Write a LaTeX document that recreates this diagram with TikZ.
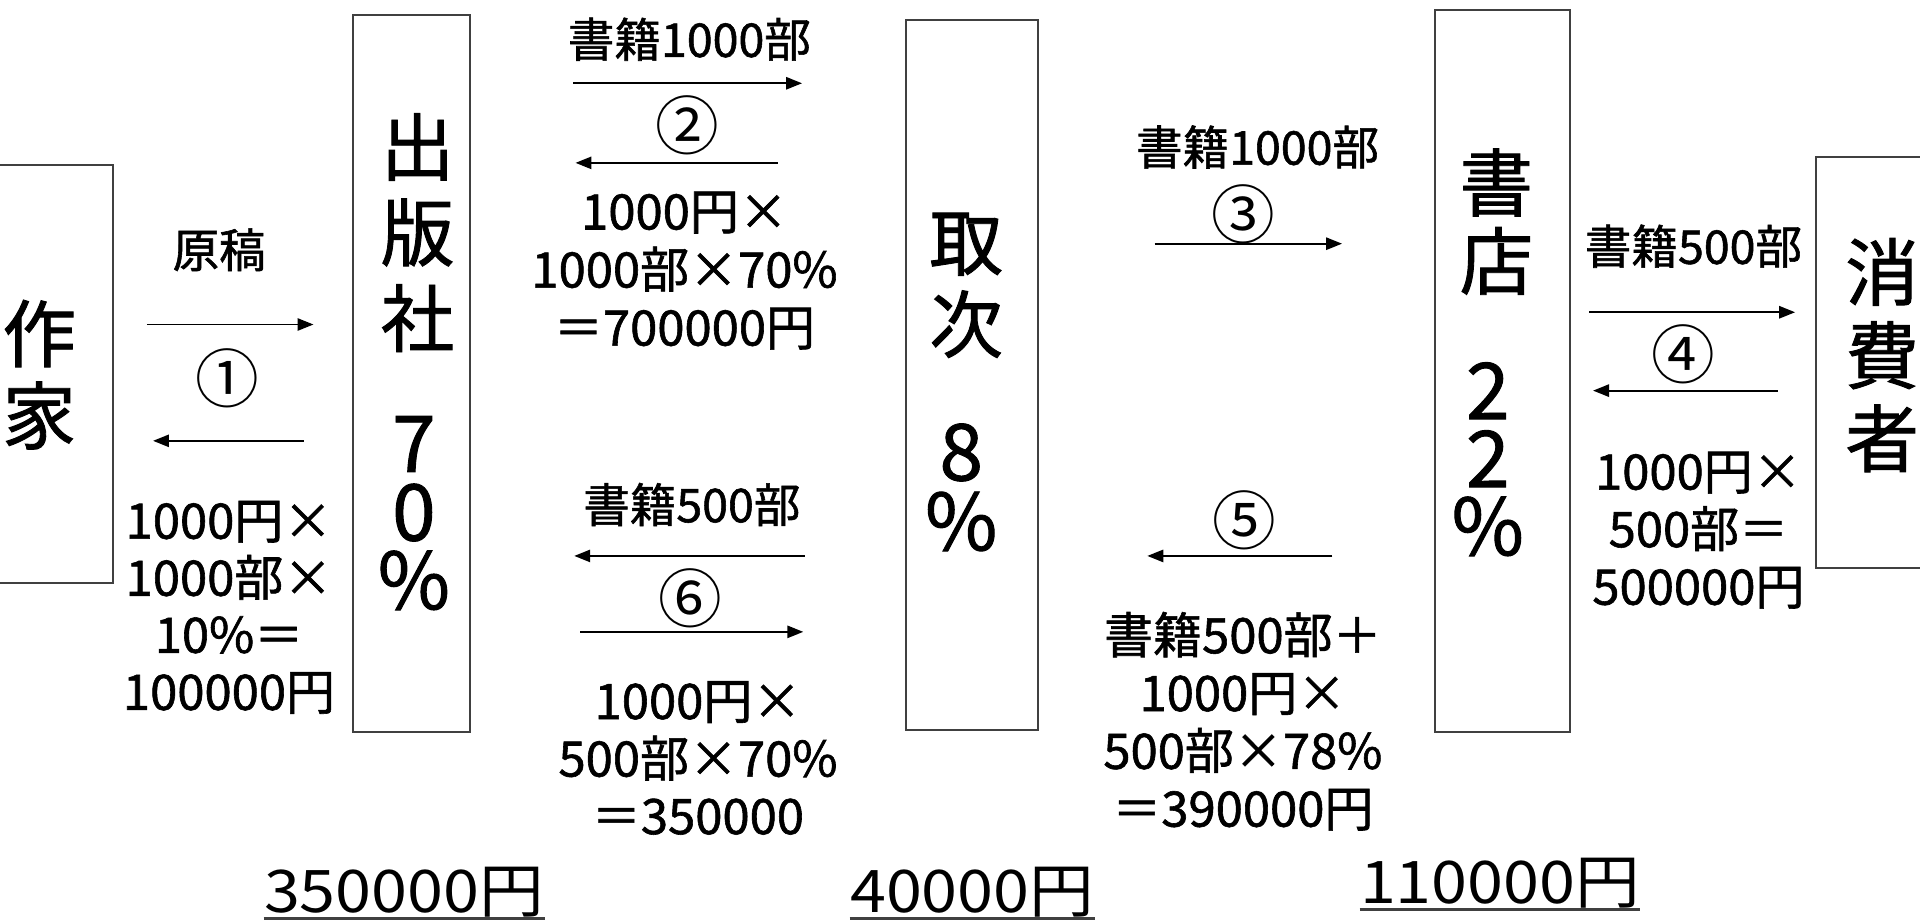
\documentclass[tikz,border=0pt]{standalone}
\usepackage{fontspec}
\setmainfont{Noto Sans CJK JP}[BoldFont=Noto Sans CJK JP, BoldFeatures={FakeBold=1.2}]
\usetikzlibrary{arrows.meta,fit}
\tikzset{
 box/.style={draw=black!75, line width=0.9pt, inner sep=0pt},
 flow/.style={line width=0.8pt, -{Triangle[length=6.5pt,width=5pt]}},
 big/.style={align=center, inner sep=0pt},
 lbl/.style={font=\bfseries\fontsize{19}{20}\selectfont, inner sep=0pt},
 blk/.style={align=center, inner sep=0pt},
 num/.style={font=\fontsize{26}{26}\selectfont, inner sep=0pt},
 tot/.style={font=\fontsize{24}{26}\selectfont, inner sep=0pt, anchor=base},
 uline/.style={line width=1.1pt, black!75},
}
\begin{document}
\begin{tikzpicture}[x=0.5pt,y=-0.5pt]
\useasboundingbox (0,0) rectangle (1568,752);
% boxes
\node[box, fit={(-4,135) (92,476)}] (author) {};
\node[box, fit={(288,12) (384,598)}] (pub) {};
\node[box, fit={(740,16) (848,596)}] (dist) {};
\node[box, fit={(1172,8) (1282,598)}] (shop) {};
\node[box, fit={(1483,128) (1580,464)}] (cons) {};
% box texts
\node[big, font=\bfseries\fontsize{30}{33.5}\selectfont] (authorT) at (32,306) {作\\家};
\node[big, font=\bfseries\fontsize{30}{35}\selectfont] (pubT) at (341,190) {出\\版\\社};
\node[big, font=\bfseries\fontsize{32}{28}\selectfont] (pubP) at (338,419) {7\\0\\\%};
\node[big, font=\bfseries\fontsize{30}{33.5}\selectfont] (distT) at (789,233) {取\\次};
\node[big, font=\bfseries\fontsize{32}{28.5}\selectfont] (distP) at (785,398) {8\\\%};
\node[big, font=\bfseries\fontsize{30}{32}\selectfont] (shopT) at (1222,181) {書\\店};
\node[big, font=\bfseries\fontsize{32}{27.75}\selectfont] (shopP) at (1215,375) {2\\2\\\%};
\node[big, font=\bfseries\fontsize{30}{34}\selectfont] (consT) at (1537,290) {消\\費\\者};
% arrow end points
\coordinate (a1rs) at (120,265); \coordinate (a1re) at (256,265);
\coordinate (a1ls) at (248,360); \coordinate (a1le) at (125,360);
\coordinate (a2rs) at (468,68);  \coordinate (a2re) at (655,68);
\coordinate (a2ls) at (635,133); \coordinate (a2le) at (470,133);
\coordinate (a6ls) at (657,454); \coordinate (a6le) at (469,454);
\coordinate (a6rs) at (474,516); \coordinate (a6re) at (656,516);
\coordinate (a3rs) at (943,199); \coordinate (a3re) at (1096,199);
\coordinate (a5ls) at (1088,454); \coordinate (a5le) at (937,454);
\coordinate (a4rs) at (1298,255); \coordinate (a4re) at (1466,255);
\coordinate (a4ls) at (1452,319); \coordinate (a4le) at (1301,319);
\foreach \s/\e in {a1rs/a1re,a1ls/a1le,a2rs/a2re,a2ls/a2le,a6ls/a6le,a6rs/a6re,a3rs/a3re,a5ls/a5le,a4rs/a4re,a4ls/a4le}
  \draw[flow] (\s) -- (\e);
% labels 1
\node[lbl] (l1) at (179,204) {原稿};
\node[num] (n1) at (186,309) {①};
\node[blk, font=\bfseries\fontsize{20}{23.3}\selectfont] (b1) at (187,496) {1000円×\\1000部×\\10\%＝\\100000円};
% labels 2
\node[lbl] (l2) at (563,32) {書籍1000部};
\node[num] (n2) at (561,102) {②};
\node[blk, font=\bfseries\fontsize{20}{23.7}\selectfont] (b2) at (559,221) {1000円×\\1000部×70\%\\＝700000円};
% labels 6
\node[lbl] (l6) at (565,412) {書籍500部};
\node[num] (n6) at (564,489) {⑥};
\node[blk, font=\bfseries\fontsize{20}{23.5}\selectfont] (b6) at (570,619) {1000円×\\500部×70\%\\＝350000};
% labels 3
\node[lbl] (l3) at (1027,120) {書籍1000部};
\node[num] (n3) at (1015,175) {③};
% labels 5
\node[num] (n5) at (1016,425) {⑤};
\node[blk, font=\bfseries\fontsize{20}{23.6}\selectfont] (b5) at (1015,589) {書籍500部＋\\1000円×\\500部×78\%\\＝390000円};
% labels 4
\node[lbl] (l4) at (1383,201) {書籍500部};
\node[num] (n4) at (1375,289) {④};
\node[blk, font=\bfseries\fontsize{20}{23.5}\selectfont] (b4) at (1387,433) {1000円×\\500部＝\\500000円};
% totals
\node[tot] (t1) at (330,745) {\scalebox{1.1}[1]{350000円}};
\node[tot] (t2) at (794,745) {\scalebox{1.1}[1]{40000円}};
\node[tot] (t3) at (1225,738) {\scalebox{1.1}[1]{110000円}};
\draw[uline] ([yshift=-2.5pt]t1.base west) -- ([yshift=-2.5pt]t1.base east);
\draw[uline] ([yshift=-2.5pt]t2.base west) -- ([yshift=-2.5pt]t2.base east);
\draw[uline] ([yshift=-2.5pt]t3.base west) -- ([yshift=-2.5pt]t3.base east);
\end{tikzpicture}
\end{document}
